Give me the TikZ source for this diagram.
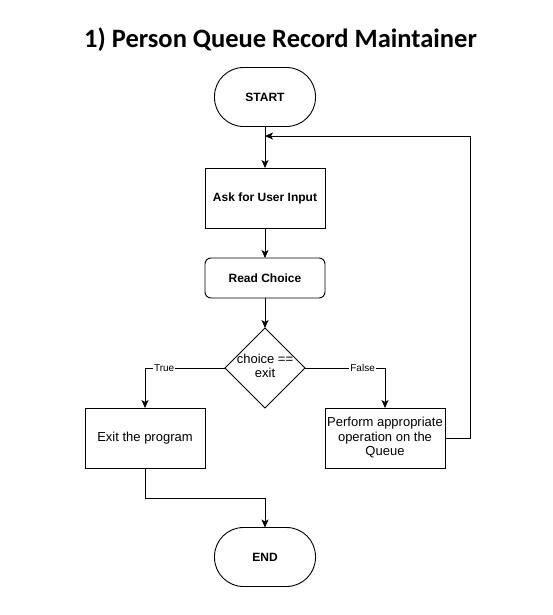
\documentclass[tikz,border=0pt]{standalone}
\usepackage{fontspec}
\setmainfont{Liberation Sans}
\newfontfamily\titlefont{Carlito}
\usetikzlibrary{shapes.geometric,arrows.meta}
\begin{document}
\begin{tikzpicture}[x=1pt,y=-1pt,
 base/.style={draw=black, line width=0.9pt, inner sep=0pt, outer sep=0pt, align=center, font=\fontsize{13}{14.5}\selectfont},
 term/.style={base, rounded corners=29pt, minimum width=101pt, minimum height=59pt, font=\bfseries\fontsize{12}{14}\selectfont},
 proc/.style={base, minimum width=120pt, minimum height=60pt},
 bproc/.style={proc, font=\bfseries\fontsize{12}{14}\selectfont},
 rproc/.style={bproc, rounded corners=6pt, minimum height=40pt},
 dec/.style={base, diamond, minimum width=80pt, minimum height=80pt},
 flow/.style={line width=0.9pt, -{Stealth[length=8pt,width=7pt,inset=2pt]}},
 lab/.style={fill=white, inner sep=1pt, font=\fontsize{10}{12}\selectfont}]
\useasboundingbox (0,0) rectangle (552,615);
\node[font=\titlefont\bfseries\fontsize{26.5}{30}\selectfont] (title) at (280.5,40) {1) Person Queue Record Maintainer};
\node[term] (start) at (265,97) {START};
\node[bproc] (ask) at (265,198) {Ask for User Input};
\node[rproc] (read) at (265,278) {Read Choice};
\node[dec] (cond) at (265,368) {};
\node[font=\fontsize{13}{14.5}\selectfont, align=center] (condtxt) at (265,366) {choice ==\\exit};
\node[proc] (exit) at (145,438) {Exit the program};
\node[proc] (perf) at (385,438) {Perform appropriate\\operation on the\\Queue};
\node[term] (end) at (265,557) {END};
\coordinate (loop) at (265,136);
\draw[flow] (start.south) -- (ask.north);
\draw[flow] (perf.east) -- ++(25,0) |- (loop);
\draw[flow] (ask) -- (read);
\draw[flow] (read) -- (cond);
\draw[flow] (cond.west) -| node[lab, pos=0.38] {True} (exit.north);
\draw[flow] (cond.east) -| node[lab, pos=0.36] {False} (perf.north);
\draw[flow] (exit.south) -- ++(0,30) -| (end.north);
\end{tikzpicture}
\end{document}
